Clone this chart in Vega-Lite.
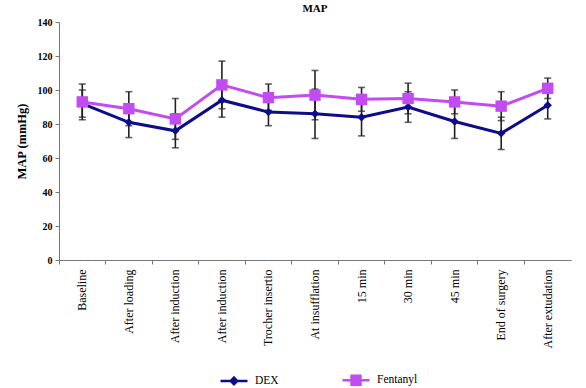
{
  "$schema": "https://vega.github.io/schema/vega-lite/v6.json",
  "autosize": "none",
  "width": 512,
  "height": 238,
  "padding": {"left": 59, "top": 22, "right": 15, "bottom": 128},
  "background": "white",
  "title": {"text": "MAP", "font": "Liberation Serif", "fontSize": 11, "fontWeight": "bold", "color": "black", "anchor": "middle", "offset": 3},
  "config": {
    "view": {"stroke": null},
    "font": "Liberation Serif",
    "axis": {"grid": false, "domainColor": "#777", "tickColor": "#777", "labelColor": "black", "titleColor": "black", "labelFont": "Liberation Serif", "titleFont": "Liberation Serif"},
    "axisY": {"labelOverlap": false, "labelSeparation": 0, "labelFontSize": 10, "labelFontWeight": "bold", "tickSize": 4, "labelPadding": 3, "labelBound": false},
    "axisQuantitative": {"labelOverlap": false}
  },
  "data": {
    "values": [
      {"i": 1, "group": "DEX", "mean": 92, "lo": 84, "hi": 100},
      {"i": 2, "group": "DEX", "mean": 81, "lo": 72, "hi": 90},
      {"i": 3, "group": "DEX", "mean": 76, "lo": 66, "hi": 86},
      {"i": 4, "group": "DEX", "mean": 94, "lo": 84, "hi": 104},
      {"i": 5, "group": "DEX", "mean": 87, "lo": 79, "hi": 95},
      {"i": 6, "group": "DEX", "mean": 86, "lo": 71.5, "hi": 100.5},
      {"i": 7, "group": "DEX", "mean": 84, "lo": 73, "hi": 95},
      {"i": 8, "group": "DEX", "mean": 90, "lo": 81, "hi": 99},
      {"i": 9, "group": "DEX", "mean": 81.5, "lo": 71.5, "hi": 91.5},
      {"i": 10, "group": "DEX", "mean": 74.5, "lo": 65, "hi": 84},
      {"i": 11, "group": "DEX", "mean": 91, "lo": 83, "hi": 99},
      {"i": 1, "group": "Fentanyl", "mean": 93, "lo": 82.5, "hi": 103.5},
      {"i": 2, "group": "Fentanyl", "mean": 89, "lo": 79, "hi": 99},
      {"i": 3, "group": "Fentanyl", "mean": 83, "lo": 71, "hi": 95},
      {"i": 4, "group": "Fentanyl", "mean": 103, "lo": 89, "hi": 117},
      {"i": 5, "group": "Fentanyl", "mean": 95.5, "lo": 88, "hi": 103.5},
      {"i": 6, "group": "Fentanyl", "mean": 97, "lo": 82.5, "hi": 111.5},
      {"i": 7, "group": "Fentanyl", "mean": 94.5, "lo": 87.5, "hi": 101.5},
      {"i": 8, "group": "Fentanyl", "mean": 95, "lo": 86, "hi": 104},
      {"i": 9, "group": "Fentanyl", "mean": 93, "lo": 86, "hi": 100},
      {"i": 10, "group": "Fentanyl", "mean": 90.5, "lo": 82, "hi": 99},
      {"i": 11, "group": "Fentanyl", "mean": 101, "lo": 95, "hi": 107}
    ]
  },
  "encoding": {
    "x": {
      "field": "i", "type": "ordinal",
      "scale": {"type": "band", "paddingInner": 0, "paddingOuter": 0},
      "axis": {
        "title": null, "labelAngle": 270, "labelAlign": "right", "labelBaseline": "middle",
        "labelFontSize": 12, "labelPadding": 5, "tickSize": 4, "bandPosition": 0,
        "labelExpr": "['Baseline','After loading','After induction','After induction','Trocher insertio','At insufflation','15 min','30 min','45 min','End of surgery','After extudation'][datum.value-1]"
      }
    }
  },
  "layer": [
    {
      "mark": {"type": "rule", "color": "#222", "strokeWidth": 1.6},
      "encoding": {
        "y": {
          "field": "lo", "type": "quantitative",
          "scale": {"domain": [0, 140], "nice": false},
          "axis": {
            "title": "MAP (mmHg)", "titleFontSize": 12.5, "titleFontWeight": "bold", "titlePadding": 9,
            "tickCount": 7, "labelOverlap": false
          }
        },
        "y2": {"field": "hi"}
      }
    },
    {
      "mark": {"type": "tick", "color": "#222", "size": 7, "thickness": 1.6, "orient": "horizontal"},
      "encoding": {"y": {"field": "lo", "type": "quantitative"}}
    },
    {
      "mark": {"type": "tick", "color": "#222", "size": 7, "thickness": 1.6, "orient": "horizontal"},
      "encoding": {"y": {"field": "hi", "type": "quantitative"}}
    },
    {
      "mark": {"type": "line", "strokeWidth": 3},
      "encoding": {
        "y": {"field": "mean", "type": "quantitative"},
        "color": {
          "field": "group", "type": "nominal",
          "scale": {"domain": ["DEX", "Fentanyl"], "range": ["#0d0d8c", "#c24cf2"]},
          "legend": {
            "title": null, "orient": "none", "direction": "horizontal",
            "legendX": 160, "legendY": 343,
            "labelFont": "Liberation Serif", "labelFontSize": 11.5, "labelColor": "black",
            "columnPadding": 58, "labelOffset": 6,
            "symbolSize": 729, "symbolStrokeWidth": 2.5,
            "encode": {
              "symbols": {
                "update": {
                  "shape": [
                    {"test": "datum.value === 'DEX'", "value": "M-1,0L1,0M0,-0.24L0.24,0L0,0.24L-0.24,0Z"},
                    {"value": "M-1,0L1,0M-0.33,-0.33L0.33,-0.33L0.33,0.33L-0.33,0.33Z"}
                  ],
                  "fill": {"signal": "scale('color', datum.value)"},
                  "stroke": {"signal": "scale('color', datum.value)"},
                  "strokeWidth": {"value": 2.5},
                  "size": {"value": 729}
                }
              }
            }
          }
        }
      }
    },
    {
      "transform": [{"filter": "datum.group === 'DEX'"}],
      "mark": {"type": "point", "filled": true, "opacity": 1, "shape": "diamond", "size": 70},
      "encoding": {
        "y": {"field": "mean", "type": "quantitative"},
        "color": {"field": "group", "type": "nominal"}
      }
    },
    {
      "transform": [{"filter": "datum.group === 'Fentanyl'"}],
      "mark": {"type": "point", "filled": true, "opacity": 1, "shape": "square", "size": 130},
      "encoding": {
        "y": {"field": "mean", "type": "quantitative"},
        "color": {"field": "group", "type": "nominal"}
      }
    }
  ]
}
